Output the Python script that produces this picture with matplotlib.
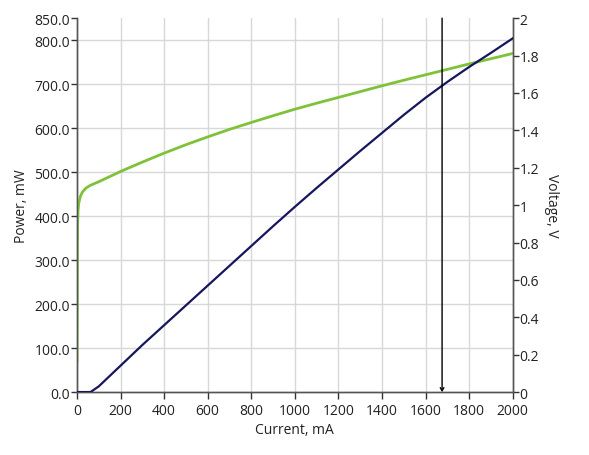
import matplotlib
matplotlib.use("Agg")
import matplotlib.pyplot as plt
from matplotlib.ticker import FixedLocator, FuncFormatter

plt.rcParams['font.family'] = ['Open Sans', 'DejaVu Sans']

# Power (mW) vs current (mA)
power_current = [0, 62, 100, 200, 300, 400, 500, 600, 700, 800, 900, 1000,
                 1100, 1200, 1300, 1400, 1500, 1600, 1700, 1800, 1900, 2000]
power_mw = [0, 0, 13, 60, 107, 152, 197, 242, 287, 332, 377, 421,
            464, 506, 548, 589, 630, 669, 705, 739, 771, 804]

# Voltage (V) vs current (mA)
volt_current = [0, 1, 2, 3, 5, 8, 15, 25, 40, 60, 100, 200, 300, 400, 500, 600,
                700, 800, 900, 1000, 1100, 1200, 1300, 1400, 1500, 1600,
                1700, 1800, 1900, 2000]
voltage_v = [0.165, 0.45, 0.75, 0.9, 0.97, 1.01, 1.045, 1.07, 1.09, 1.105, 1.125,
             1.18, 1.23, 1.278, 1.323, 1.365, 1.405, 1.442, 1.478, 1.513,
             1.545, 1.576, 1.607, 1.638, 1.668, 1.697, 1.726, 1.755, 1.783, 1.811]

marker_current = 1676

x_ticks = list(range(0, 2001, 200))
power_ticks = [0, 100, 200, 300, 400, 500, 600, 700, 800, 850]
volt_ticks = [0, 0.2, 0.4, 0.6, 0.8, 1.0, 1.2, 1.4, 1.6, 1.8, 2.0]

navy = '#16165e'
green = '#7fc23a'
spine_c = '#555555'
text_c = '#222222'

fig = plt.figure(figsize=(5.89, 4.56), dpi=100)
ax = fig.add_axes([0.1307, 0.138, 0.7397, 0.82])
ax2 = ax.twinx()

ax.set_xlim(0, 2000)
ax.set_ylim(0, 850)
ax2.set_ylim(0, 2)

ax.xaxis.set_major_locator(FixedLocator(x_ticks))
ax.yaxis.set_major_locator(FixedLocator(power_ticks))
ax.yaxis.set_major_formatter(FuncFormatter(lambda v, p: f"{v:.1f}"))
ax2.yaxis.set_major_locator(FixedLocator(volt_ticks))
ax2.yaxis.set_major_formatter(FuncFormatter(lambda v, p: f"{v:g}"))

grid_y = [t for t in power_ticks if t not in (0, 850)]
for gy in grid_y:
    ax.axhline(gy, color='#d8d8d8', lw=1, zorder=0)
for gx in x_ticks[1:-1]:
    ax.axvline(gx, color='#d8d8d8', lw=1, zorder=0)

for a in (ax, ax2):
    a.spines['top'].set_visible(False)
    for s in ('left', 'right', 'bottom'):
        a.spines[s].set_color(spine_c)
        a.spines[s].set_linewidth(1)
    a.tick_params(colors=text_c, labelsize=10, length=4, width=1, pad=1)
    a.tick_params(axis='both', color='#333333')
ax.tick_params(axis='x', length=5, pad=3)

ax2.plot(volt_current, voltage_v, color=green, lw=2, zorder=2)
ax2.plot(power_current, power_mw, color=navy, lw=1.6, zorder=3, transform=ax.transData)

ax2.annotate('', xy=(marker_current, 0), xytext=(marker_current, 1),
             xycoords=('data', 'axes fraction'), textcoords=('data', 'axes fraction'),
             arrowprops=dict(arrowstyle='->,head_length=0.22,head_width=0.13',
                             color='black', lw=1, shrinkA=0, shrinkB=0), zorder=5)

ax.set_xlabel('Current, mA', fontsize=10, color=text_c, labelpad=3)
ax.set_ylabel('Power, mW', fontsize=10, color=text_c, labelpad=4)
ax2.set_ylabel('Voltage, V', fontsize=10, color=text_c, rotation=270, labelpad=14)

fig.savefig('out.png', dpi=100)
